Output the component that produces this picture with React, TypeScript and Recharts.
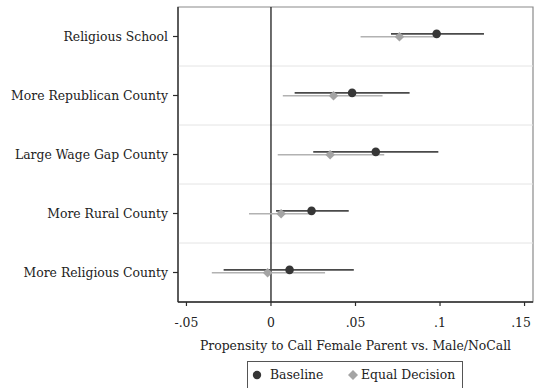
import React from "react";
import {
  ScatterChart,
  Scatter,
  XAxis,
  YAxis,
  ErrorBar,
  ReferenceLine,
  ReferenceArea,
  Legend,
} from "recharts";

const categories = [
  "Religious School",
  "More Republican County",
  "Large Wage Gap County",
  "More Rural County",
  "More Religious County",
];

const baselineEst = [0.098, 0.048, 0.062, 0.024, 0.011];
const baselineLo = [0.071, 0.014, 0.025, 0.003, -0.028];
const baselineHi = [0.126, 0.082, 0.099, 0.046, 0.049];

const equalEst = [0.076, 0.037, 0.035, 0.006, -0.002];
const equalLo = [0.053, 0.007, 0.004, -0.013, -0.035];
const equalHi = [0.097, 0.066, 0.067, 0.023, 0.032];

const xTicks = [-0.05, 0, 0.05, 0.1, 0.15];
const xTickLabels = ["-.05", "0", ".05", ".1", ".15"];
const gridValues = [0.5, 1.5, 2.5, 3.5];

const FONT = "DejaVu Serif";
const FS = 12.4;
const TEXT = "#222";
const DARK = "#363636";
const DARK_LINE = "#4a4a4a";
const LIGHT = "#a4a4a4";
const LIGHT_LINE = "#b2b2b2";

const baselineData = categories.map((c, i) => ({
  name: c,
  x: baselineEst[i],
  y: i - 0.045,
  err: [baselineEst[i] - baselineLo[i], baselineHi[i] - baselineEst[i]],
}));

const equalData = categories.map((c, i) => ({
  name: c,
  x: equalEst[i],
  y: i + 0.005,
  err: [equalEst[i] - equalLo[i], equalHi[i] - equalEst[i]],
}));

const CircleShape = (props: any) => {
  const { cx, cy } = props;
  return <circle cx={cx} cy={cy} r={4.3} fill={DARK} />;
};

const DiamondShape = (props: any) => {
  const { cx, cy } = props;
  const r = 4.8;
  return (
    <polygon
      points={`${cx},${cy - r} ${cx + r},${cy} ${cx},${cy + r} ${cx - r},${cy}`}
      fill={LIGHT}
    />
  );
};

const YTick = (props: any) => {
  const { x, y, payload } = props;
  return (
    <text
      x={x}
      y={y}
      dy="0.35em"
      textAnchor="end"
      style={{ fontFamily: FONT, fontSize: FS, fill: TEXT }}
    >
      {categories[payload.value] ?? ""}
    </text>
  );
};

const XTick = (props: any) => {
  const { x, y, payload } = props;
  const idx = xTicks.indexOf(payload.value);
  return (
    <text
      x={x}
      y={y}
      dy="0.78em"
      textAnchor="middle"
      style={{ fontFamily: FONT, fontSize: FS, fill: TEXT }}
    >
      {idx >= 0 ? xTickLabels[idx] : String(payload.value)}
    </text>
  );
};

const markerLeft = [2, 98];
const textLeft = [22, 113];

const renderLegend = (props: any) => {
  const payload = props.payload || [];
  return (
    <div
      style={{
        position: "relative",
        width: 216,
        height: 28,
        border: "1px solid #555",
        background: "#fff",
        boxSizing: "border-box",
        fontFamily: FONT,
        fontSize: FS,
        color: TEXT,
      }}
    >
      {payload.map((p: any, idx: number) => (
        <React.Fragment key={idx}>
          <svg
            width={14}
            height={14}
            style={{ position: "absolute", left: markerLeft[idx], top: 6 }}
          >
            {idx === 0 ? (
              <circle cx={7} cy={7} r={4.2} fill={DARK} />
            ) : (
              <polygon points="7,2 12,7 7,12 2,7" fill={LIGHT} />
            )}
          </svg>
          <span
            style={{
              position: "absolute",
              left: textLeft[idx],
              top: 5,
              whiteSpace: "nowrap",
              lineHeight: "16px",
            }}
          >
            {p.value}
          </span>
        </React.Fragment>
      ))}
    </div>
  );
};

export default function App() {
  return (
    <div style={{ position: "absolute", left: 0, top: 0, background: "#fff" }}>
      <ScatterChart
        width={535}
        height={388}
        margin={{ top: 7, right: 2, left: 0, bottom: 0 }}
      >
        <XAxis
          type="number"
          dataKey="x"
          domain={[-0.055, 0.155]}
          allowDataOverflow
          ticks={xTicks}
          height={86}
          tickSize={4}
          tickMargin={11}
          axisLine={{ stroke: "#2a2a2a", strokeWidth: 1.3 }}
          tickLine={{ stroke: "#2a2a2a", strokeWidth: 1.2 }}
          tick={<XTick />}
          label={{
            value: "Propensity to Call Female Parent vs. Male/NoCall",
            position: "insideTop",
            offset: 39,
            style: { fontFamily: FONT, fontSize: FS, fill: TEXT },
          }}
        />
        <YAxis
          type="number"
          dataKey="y"
          domain={[-0.5, 4.5]}
          reversed
          ticks={[0, 1, 2, 3, 4]}
          width={178}
          tickSize={5}
          tickMargin={5}
          axisLine={{ stroke: "#2a2a2a", strokeWidth: 1.3 }}
          tickLine={{ stroke: "#2a2a2a", strokeWidth: 1.2 }}
          tick={<YTick />}
        />
        {gridValues.map((g) => (
          <ReferenceLine key={g} y={g} stroke="#e4e4e4" strokeWidth={1} />
        ))}
        <ReferenceArea
          x1={-0.055}
          x2={0.155}
          y1={-0.5}
          y2={4.5}
          fill="none"
          stroke="#8a8a8a"
          strokeWidth={1.2}
        />
        <ReferenceLine x={0} stroke="#1e1e1e" strokeWidth={1.3} />
        <Legend
          verticalAlign="middle"
          layout="horizontal"
          content={renderLegend}
          wrapperStyle={{ left: 247, top: 361, width: 216 }}
        />
        <Scatter
          name="Baseline"
          data={baselineData}
          fill={DARK}
          shape={CircleShape}
          isAnimationActive={false}
        >
          <ErrorBar
            dataKey="err"
            direction="x"
            width={0}
            stroke={DARK_LINE}
            strokeWidth={1.6}
            isAnimationActive={false}
          />
        </Scatter>
        <Scatter
          name="Equal Decision"
          data={equalData}
          fill={LIGHT}
          shape={DiamondShape}
          isAnimationActive={false}
        >
          <ErrorBar
            dataKey="err"
            direction="x"
            width={0}
            stroke={LIGHT_LINE}
            strokeWidth={1.6}
            isAnimationActive={false}
          />
        </Scatter>
      </ScatterChart>
    </div>
  );
}
